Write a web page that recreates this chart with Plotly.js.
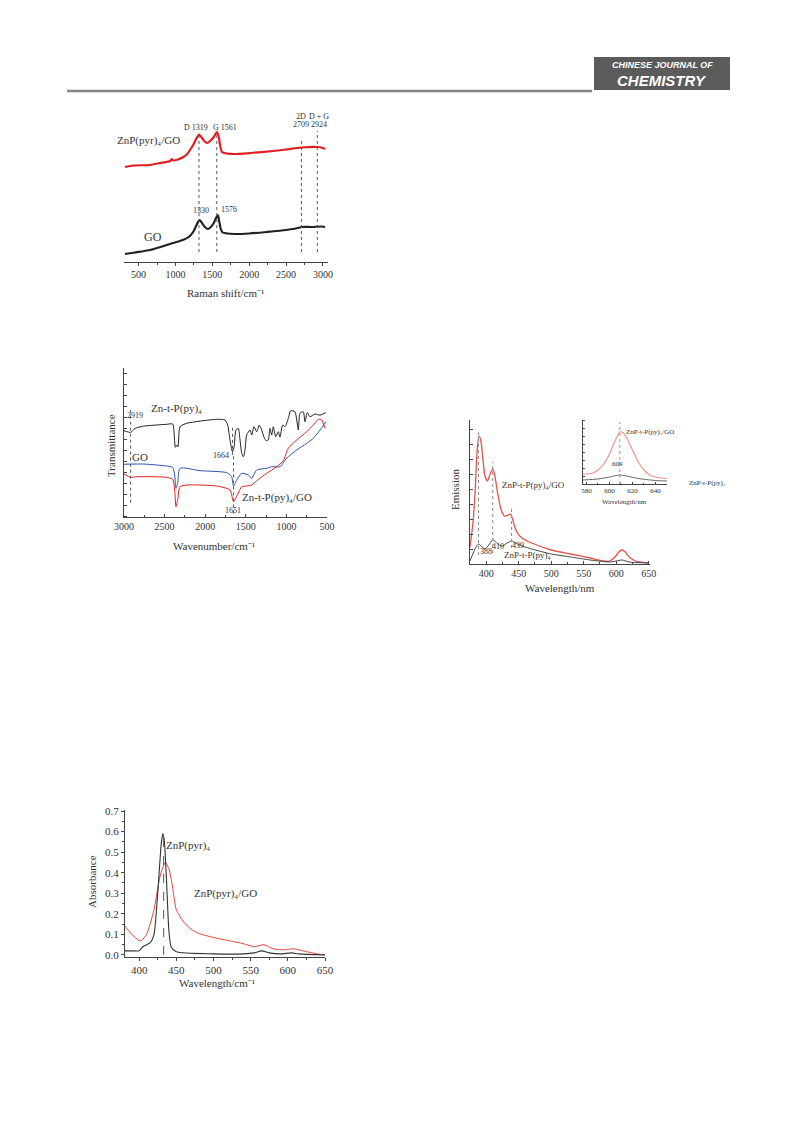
<!DOCTYPE html>
<html>
<head>
<meta charset="utf-8">
<script src="https://cdn.plot.ly/plotly-3.0.1.min.js"></script>
<style>
  html, body { margin: 0; padding: 0; background: #ffffff; }
  #page { width: 793px; height: 1123px; }
</style>
</head>
<body>
<div id="page"></div>
<script>
// ---------- Raman spectra (a.u.) ----------
const ramanShiftGO = [315, 450, 655, 800, 971, 1100, 1180, 1240, 1280, 1310, 1330, 1360, 1400, 1440, 1480, 1520, 1550, 1576, 1595, 1615, 1640, 1700, 1800, 2000, 2238, 2500, 2690, 2709, 2850, 2985, 3030];
const ramanGO      = [8, 9.5, 12, 15, 19, 22, 25, 30, 36, 40.5, 42, 39, 35, 33, 35, 39, 44, 47, 40, 33, 29.5, 28.5, 28, 28.5, 30, 32, 34.5, 35, 35, 35.5, 35];
const ramanShiftZnGO = [315, 428, 655, 790, 930, 949, 971, 1050, 1107, 1160, 1197, 1240, 1280, 1319, 1350, 1390, 1430, 1470, 1520, 1561, 1585, 1605, 1630, 1695, 1800, 2012, 2328, 2500, 2709, 2924, 2998, 3030];
const ramanZnGO      = [95, 96.5, 97, 99, 101, 103, 101.5, 103, 105, 108, 112, 117, 123, 127.5, 125, 121, 119, 121, 125, 130, 126, 117, 110, 108.5, 108, 109, 111, 112.5, 114.5, 115, 114, 113];
const ramanBands     = [1319, 1561, 2709, 2924];
const ramanBandTop   = [127, 130, 124, 131];
const ramanBandBase  = 10;

// ---------- FTIR spectra (transmittance, a.u.) ----------
const irWnZnP = [3000, 2918, 2865, 2762, 2474, 2400, 2384, 2368, 2350, 2335, 2310, 2228, 1858, 1756, 1723, 1695, 1664, 1645, 1621, 1592, 1571, 1550, 1530, 1510, 1489, 1448, 1427, 1399, 1366, 1334, 1305, 1264, 1243, 1223, 1202, 1181, 1161, 1132, 1100, 1079, 1046, 1017, 977, 947, 894, 873, 853, 833, 792, 771, 743, 709, 648, 586, 516];
const irZnP   = [7.79, 7.64, 8.0, 8.2, 8.37, 8.4, 7.7, 6.29, 6.5, 6.34, 8.15, 8.46, 8.82, 8.76, 8.3, 6.95, 5.89, 6.29, 7.85, 8.0, 6.95, 5.74, 5.43, 6.04, 7.4, 7.85, 7.4, 8.15, 7.7, 8.3, 7.85, 7.0, 6.88, 6.95, 8.0, 7.4, 8.15, 7.25, 7.7, 7.2, 8.3, 8.15, 8.9, 9.6, 9.5, 8.76, 7.85, 9.37, 9.5, 8.6, 9.42, 9.06, 9.3, 9.2, 9.42];
const irWnGO  = [3000, 2762, 2474, 2400, 2376, 2360, 2339, 2310, 2064, 1735, 1674, 1651, 1612, 1550, 1469, 1427, 1366, 1243, 1181, 1079, 998, 873, 750, 669, 586, 512];
const irGO    = [4.75, 4.77, 4.59, 4.47, 3.78, 2.57, 3.03, 4.38, 4.17, 3.99, 3.62, 2.78, 3.32, 3.93, 3.78, 3.48, 4.23, 4.38, 4.53, 4.53, 5.29, 6.04, 6.65, 7.1, 7.85, 8.6];
const irWnZnGO = [3000, 2918, 2844, 2474, 2400, 2376, 2360, 2339, 2310, 2228, 1858, 1695, 1651, 1604, 1550, 1489, 1427, 1366, 1243, 1120, 1038, 977, 873, 750, 669, 607, 565, 525];
const irZnGO   = [3.87, 3.57, 3.62, 3.57, 3.39, 2.42, 0.91, 1.51, 2.72, 2.87, 2.78, 2.42, 1.36, 1.97, 2.72, 2.78, 2.87, 3.26, 3.93, 4.53, 5.07, 6.2, 6.95, 7.7, 8.3, 8.82, 8.76, 8.0];
const irBands   = [2919, 1664, 1651];
const irBandLo  = [1.27, 5.6, 0.3];
const irBandHi  = [9.67, 8.15, 5.6];

// ---------- Emission spectra (a.u.) ----------
const emWlZnGO = [375, 380, 383, 386, 389, 392, 395, 398, 402, 406, 410, 413, 418, 423, 428, 434, 437, 440, 443, 447, 455, 470, 500, 530, 560, 580, 590, 598, 604, 609, 614, 620, 630, 650];
const emZnGO   = [1.7, 4.4, 7.4, 11.4, 12.8, 12.2, 10.4, 8.8, 8.3, 9.0, 9.5, 8.9, 6.9, 5.4, 4.8, 4.9, 5.0, 4.6, 3.9, 3.2, 2.6, 2.1, 1.4, 1.0, 0.6, 0.3, 0.3, 0.7, 1.2, 1.4, 1.2, 0.7, 0.3, 0.1];
const emWlZnP  = [375, 380, 385, 388, 392, 398, 404, 410, 415, 420, 425, 432, 439, 445, 455, 470, 500, 530, 560, 590, 600, 609, 620, 650];
const emZnP    = [0.3, 1.1, 1.8, 2.0, 1.8, 1.5, 1.9, 2.4, 2.2, 1.9, 1.8, 2.1, 2.3, 2.1, 1.8, 1.5, 1.0, 0.7, 0.4, 0.2, 0.3, 0.4, 0.2, 0.1];
const emBands   = [388, 410, 439];
const emBandLo  = [0.9, 1.1, 1.6];
const emBandHi  = [13.2, 10.2, 5.7];
// inset around 609 nm
const inWlZnGO = [577, 585, 590, 595, 600, 604, 607, 609, 612, 615, 620, 625, 630, 635, 640, 645, 650];
const inZnGO   = [1.0, 1.07, 1.4, 2.0, 3.0, 4.1, 4.8, 5.2, 5.1, 4.6, 3.4, 2.2, 1.4, 0.9, 0.7, 0.6, 0.55];
const inWlZnP  = [577, 590, 600, 609, 615, 625, 640, 650];
const inZnP    = [0.4, 0.5, 0.7, 0.9, 0.8, 0.55, 0.35, 0.3];
const inBand = 609;

// ---------- UV-vis absorbance ----------
const uvWlZnP = [381, 390, 400, 405, 410, 415, 420, 425, 430, 432, 434, 437, 440, 443, 450, 500, 540, 555, 565, 575, 590, 605, 615, 650];
const uvZnP   = [0.02, 0.02, 0.02, 0.04, 0.05, 0.06, 0.10, 0.30, 0.55, 0.59, 0.55, 0.35, 0.12, 0.04, 0.015, 0.005, 0.005, 0.01, 0.02, 0.01, 0.005, 0.01, 0.005, 0.0];
const uvWlZnGO = [381, 390, 400, 403, 410, 420, 428, 435, 440, 445, 450, 460, 470, 480, 500, 520, 540, 555, 568, 580, 595, 608, 620, 640, 650];
const uvZnGO   = [0.14, 0.10, 0.07, 0.07, 0.10, 0.22, 0.38, 0.45, 0.42, 0.33, 0.22, 0.16, 0.125, 0.105, 0.085, 0.07, 0.055, 0.04, 0.05, 0.03, 0.025, 0.03, 0.02, 0.005, 0.0];
const uvSoret = 433;
const uvSoretTop = 0.6;

// ---------- page helpers ----------
const W = 793, H = 1123;
const fx = p => p / W;
const fy = p => 1 - p / H;
const SERIF = 'Liberation Serif, Times New Roman, serif';
const SANS = 'Liberation Sans, Arial, sans-serif';
const TXT = '#333333';

const RED = '#e02020', BLACK = '#222222', BLUE = '#3050b0';

function line(x, y, xa, ya, color, width) {
  return { type: 'scatter', mode: 'lines', x: x, y: y, xaxis: xa, yaxis: ya,
           line: { color: color, width: width || 1, shape: 'spline', smoothing: 0.6 },
           hoverinfo: 'skip', showlegend: false };
}

const traces = [
  line(ramanShiftZnGO, ramanZnGO, 'x', 'y', RED, 2.2),
  line(ramanShiftGO, ramanGO, 'x', 'y', BLACK, 2.2),
  line(irWnZnP, irZnP, 'x2', 'y2', BLACK, 1),
  line(irWnGO, irGO, 'x2', 'y2', BLUE, 1),
  line(irWnZnGO, irZnGO, 'x2', 'y2', RED, 1),
  line(emWlZnGO, emZnGO, 'x3', 'y3', '#e0554c', 1.3),
  line(emWlZnP, emZnP, 'x3', 'y3', '#444444', 1),
  line(inWlZnGO, inZnGO, 'x4', 'y4', '#eb958c', 1.2),
  line(inWlZnP, inZnP, 'x4', 'y4', '#666666', 1),
  line(uvWlZnGO, uvZnGO, 'x5', 'y5', '#e8433a', 1),
  line(uvWlZnP, uvZnP, 'x5', 'y5', '#333333', 1.1)
];

// guide lines at band positions
const shapes = [];
function vguide(x, y0, y1, xr, yr, dash, color) {
  shapes.push({ type: 'line', xref: xr, yref: yr, x0: x, x1: x, y0: y0, y1: y1,
                line: { color: color || '#666', width: 1, dash: dash || 'dot' } });
}
ramanBands.forEach((b, i) => vguide(b, ramanBandBase, ramanBandTop[i], 'x', 'y', 'dot', '#555'));
irBands.forEach((b, i) => vguide(b, irBandLo[i], irBandHi[i], 'x2', 'y2', 'dot', '#555'));
emBands.forEach((b, i) => vguide(b, emBandLo[i], emBandHi[i], 'x3', 'y3', 'dot', '#888'));
vguide(inBand, 0, 6.2, 'x4', 'y4', 'dot', '#999');
vguide(uvSoret, 0, uvSoretTop, 'x5', 'y5', 'dash', '#555');

// journal header
shapes.push({ type: 'line', xref: 'paper', yref: 'paper', x0: fx(67), x1: fx(592), y0: fy(91), y1: fy(91),
              line: { color: '#858585', width: 2.5 } });
shapes.push({ type: 'rect', xref: 'paper', yref: 'paper', x0: fx(594), x1: fx(730), y0: fy(90), y1: fy(57),
              fillcolor: '#5b5b5b', line: { width: 0 } });

const annotations = [];
function label(text, x, y, size, opts) {
  annotations.push(Object.assign({ text: text, xref: 'paper', yref: 'paper', x: fx(x), y: fy(y),
    showarrow: false, xanchor: 'center', yanchor: 'middle',
    font: { family: SERIF, size: size, color: TXT } }, opts || {}));
}

// header text
label('CHINESE JOURNAL OF', 662, 65, 9, { font: { family: SANS, size: 9, color: '#ffffff', weight: 'bold', style: 'italic' } });
label('CHEMISTRY', 662, 81, 15, { font: { family: SANS, size: 15, color: '#ffffff', weight: 'bold', style: 'italic' } });

// Raman panel text
label('ZnP(pyr)₄/GO', 148, 140, 11);
label('GO', 153, 237, 12);
label('D 1319', 196, 127, 8);
label('G 1561', 225, 127, 8);
label('2D', 301, 117, 8);
label('2709', 301, 125, 8);
label('D + G', 319, 117, 8);
label('2924', 319, 125, 8);
label('1330', 201, 210, 8);
label('1576', 229, 209, 8);
label('Raman shift/cm⁻¹', 225, 293, 11);

// FTIR panel text
label('Zn-t-P(py)₄', 176, 409, 11);
label('GO', 140, 457, 11);
label('Zn-t-P(py)₄/GO', 277, 497, 11);
label('2919', 135, 415, 8);
label('1664', 221, 455, 8);
label('1651', 233, 510, 8);
label('Wavenumber/cm⁻¹', 214, 546, 11);
label('Transmittance', 111, 446, 11, { textangle: -90 });

// emission panel text
label('ZnP-t-P(py)₄/GO', 533, 485, 9);
label('ZnP-t-P(py)₄', 527, 555, 9);
label('388', 486, 551, 8);
label('410', 498, 546, 8);
label('439', 518, 545, 8);
label('Wavelength/nm', 560, 588, 11);
label('Emission', 455, 490, 11, { textangle: -90 });
label('ZnP-t-P(py)₄/GO', 650, 432, 7);
label('609', 617, 464, 7);
label('ZnP-t-P(py)₄', 707, 483, 7);
label('Wavelength/nm', 624, 502, 7);

// absorbance panel text
label('ZnP(pyr)₄', 188, 845, 11);
label('ZnP(pyr)₄/GO', 225, 893, 11);
label('Wavelength/cm⁻¹', 217, 983, 11);
label('Absorbance', 92, 882, 11, { textangle: -90 });

const axBase = {
  showgrid: false, zeroline: false, showline: true, mirror: false, linecolor: '#444', linewidth: 1,
  tickcolor: '#444', tickfont: { family: SERIF, size: 10, color: TXT }, fixedrange: true
};
const ax = o => Object.assign({}, axBase, o);

// unlabelled intensity axes: only tick marks, carried by the minor-tick layer
function markOnlyAxis(domain, range, anchor, step, len) {
  return ax({ domain: domain, range: range, anchor: anchor,
              ticks: '', tick0: range[0] - 1000 * step, dtick: 5000 * step, showticklabels: false,
              minor: { tick0: range[0], dtick: step, ticks: 'inside', ticklen: len, tickcolor: '#444' } });
}

const layout = {
  width: W, height: H,
  margin: { l: 0, r: 0, t: 0, b: 0 },
  paper_bgcolor: '#ffffff', plot_bgcolor: 'rgba(0,0,0,0)',
  showlegend: false,
  // Raman
  xaxis: ax({ domain: [fx(124), fx(327.7)], range: [302, 3065], anchor: 'y',
              ticks: 'outside', ticklen: 3, tick0: 500, dtick: 500,
              minor: { dtick: 250, tick0: 250, ticks: 'outside', ticklen: 2, tickcolor: '#444' } }),
  yaxis: { domain: [fy(262), fy(108)], range: [0, 154], visible: false, anchor: 'x', fixedrange: true },
  // FTIR
  xaxis2: ax({ domain: [fx(124), fx(327)], range: [3000, 500], anchor: 'y2',
               ticks: 'inside', ticklen: 3, tick0: 500, dtick: 500,
               minor: { dtick: 250, ticks: 'inside', ticklen: 2, tickcolor: '#444' } }),
  yaxis2: markOnlyAxis([fy(516.7), fy(368)], [0, 13.47], 'x2', 1, 3),
  // emission
  xaxis3: ax({ domain: [fx(470), fx(650)], range: [375, 652], anchor: 'y3',
               ticks: 'inside', ticklen: 3, tick0: 400, dtick: 50,
               minor: { dtick: 25, ticks: 'inside', ticklen: 2, tickcolor: '#444' } }),
  yaxis3: markOnlyAxis([fy(564), fy(420)], [0, 14.4], 'x3', 1.5, 3),
  // emission inset
  xaxis4: ax({ domain: [fx(583), fx(667)], range: [577, 650], anchor: 'y4',
               ticks: 'inside', ticklen: 2, tick0: 580, dtick: 20,
               tickfont: { family: SERIF, size: 7, color: TXT },
               minor: { dtick: 10, ticks: 'inside', ticklen: 1, tickcolor: '#444' } }),
  yaxis4: markOnlyAxis([fy(484), fy(420)], [0, 6.4], 'x4', 0.8, 2),
  // absorbance
  xaxis5: ax({ domain: [fx(125), fx(325)], range: [381, 650], anchor: 'y5',
               ticks: 'outside', ticklen: 3, tick0: 400, dtick: 50,
               tickfont: { family: SERIF, size: 11, color: TXT },
               minor: { dtick: 25, ticks: 'outside', ticklen: 2, tickcolor: '#444' } }),
  yaxis5: ax({ domain: [fy(957), fy(810)], range: [-0.01, 0.705], anchor: 'x5',
               ticks: 'outside', ticklen: 3, tick0: 0, dtick: 0.1, tickformat: '.1f',
               tickfont: { family: SERIF, size: 11, color: TXT },
               minor: { dtick: 0.05, ticks: 'outside', ticklen: 2, tickcolor: '#444' } }),
  shapes: shapes,
  annotations: annotations
};

Plotly.newPlot('page', traces, layout, { staticPlot: true, displayModeBar: false });
</script>
</body>
</html>
